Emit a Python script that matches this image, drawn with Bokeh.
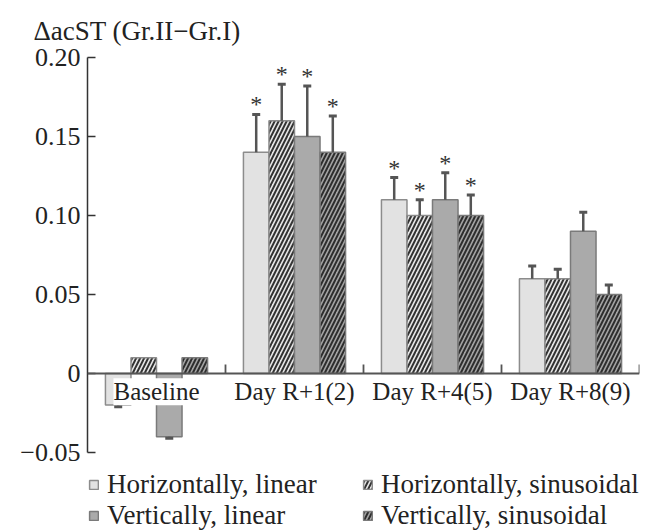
import math
from bokeh.plotting import figure
from bokeh.models import (FactorRange, FixedTicker, ColumnDataSource, Legend,
                          LegendItem, Span)
from bokeh.transform import dodge
from bokeh.core.properties import value
from bokeh.embed import file_html
from bokeh.resources import INLINE

NaN = float("nan")

groups = ["Baseline", "Day R+1(2)", "Day R+4(5)", "Day R+8(9)"]
series = ["Horizontally, linear", "Horizontally, sinusoidal",
          "Vertically, linear", "Vertically, sinusoidal"]

h_lin = [-0.02, 0.14, 0.11, 0.06]
h_sin = [0.01, 0.16, 0.10, 0.06]
v_lin = [-0.04, 0.15, 0.11, 0.09]
v_sin = [0.01, 0.14, 0.10, 0.05]

h_lin_err = [0.001, 0.024, 0.014, 0.008]
h_sin_err = [NaN, 0.023, 0.010, 0.006]
v_lin_err = [0.001, 0.032, 0.017, 0.012]
v_sin_err = [NaN, 0.023, 0.013, 0.006]

h_lin_sig = ["", "*", "*", ""]
h_sin_sig = ["", "*", "*", ""]
v_lin_sig = ["", "*", "*", ""]
v_sin_sig = ["", "*", "*", ""]

y_ticks = [-0.05, 0, 0.05, 0.10, 0.15, 0.20]
y_tick_labels = ["\u22120.05", "0", "0.05", "0.10", "0.15", "0.20"]
y_title = "\u0394acST (Gr.II\u2212Gr.I)"
y_axis_bounds = (-0.05, 0.20)
# extra room below the axis holds the legend inside the plot frame
y_view = (-0.10, 0.20)

FONT = "Liberation Serif"

p = figure(width=652, height=531, x_range=FactorRange(*groups, range_padding=0),
           y_range=y_view, output_backend="svg", toolbar_location=None,
           x_axis_location=None, min_border_left=87, min_border_right=13,
           min_border_top=57, min_border_bottom=0)
p.outline_line_color = None
p.grid.visible = False
p.background_fill_color = "white"
p.border_fill_color = "white"

p.title.text = y_title
p.title.align = "left"
p.title.offset = -54
p.title.standoff = 24
p.title.text_font = FONT
p.title.text_font_size = "27px"
p.title.text_font_style = "normal"
p.title.text_color = "#222222"

yax = p.yaxis[0]
yax.bounds = y_axis_bounds
yax.ticker = FixedTicker(ticks=y_ticks, minor_ticks=[])
yax.major_label_overrides = dict(zip(y_ticks, y_tick_labels))
yax.major_tick_in = 8
yax.major_tick_out = 0
yax.minor_tick_line_color = None
yax.axis_line_color = "#333333"
yax.axis_line_width = 1.5
yax.major_tick_line_color = "#333333"
yax.major_tick_line_width = 1.5
yax.major_label_text_font = FONT
yax.major_label_text_font_size = "26px"
yax.major_label_text_color = "#222222"
yax.major_label_standoff = 7

styles = [
    dict(fill_color="#e2e2e2", line_color="#8c8c8c"),
    dict(fill_color="#e8e8e8", line_color="#8c8c8c", hatch_pattern="/",
         hatch_color="#333333", hatch_scale=8, hatch_weight=2),
    dict(fill_color="#aaaaaa", line_color="#7a7a7a"),
    dict(fill_color="#a4a4a4", line_color="#7a7a7a", hatch_pattern="/",
         hatch_color="#2e2e2e", hatch_scale=8, hatch_weight=2),
]
offsets = [-0.2775, -0.0925, 0.0925, 0.2775]
bar_w = 0.185
vals = [h_lin, h_sin, v_lin, v_sin]
errs = [h_lin_err, h_sin_err, v_lin_err, v_sin_err]
sigs = [h_lin_sig, h_sin_sig, v_lin_sig, v_sin_sig]

renderers = []
for name, v, e, s, off, st in zip(series, vals, errs, sigs, offsets, styles):
    end = [vi + (ei if vi >= 0 else -ei) for vi, ei in zip(v, e)]
    src = ColumnDataSource(dict(group=groups, val=v, end=end, sig=s))
    xd = dodge("group", off, range=p.x_range)
    r = p.vbar(x=xd, top="val", bottom=0, width=bar_w, source=src,
               line_width=1.5, **st)
    renderers.append((name, r))
    p.segment(x0=xd, y0="val", x1=xd, y1="end", source=src,
              line_color="#555555", line_width=2.5)
    p.scatter(x=xd, y="end", source=src, marker="dash", size=8,
              line_color="#555555", line_width=3)
    p.text(x=xd, y="end", text="sig", source=src, text_font=value(FONT),
           text_font_size="24px", text_align="center",
           text_baseline="alphabetic", text_color="#333333", y_offset=-10)

p.add_layout(Span(location=0, dimension="width", line_color="#555555",
                  line_width=1.8))

gsrc = ColumnDataSource(dict(group=groups))
gx = dodge("group", 0.5, range=p.x_range)
p.segment(x0=gx, y0=0, x1=gx, y1=0.0057, source=gsrc,
          line_color="#555555", line_width=1.8)
p.text(x="group", y=-0.0115, text="group", source=gsrc, text_font=value(FONT),
       text_font_size="25px", text_align="center", text_baseline="middle",
       text_color="#222222", background_fill_color="white")

for pair, lx in (((0, 2), 1), ((1, 3), 275)):
    leg = Legend(items=[LegendItem(label=renderers[i][0],
                                   renderers=[renderers[i][1]]) for i in pair],
                 location=(lx, 0), orientation="vertical",
                 label_text_font=FONT, label_text_font_size="27px",
                 label_text_color="#222222", glyph_width=11, glyph_height=11,
                 label_standoff=8, spacing=0, padding=0,
                 margin=0, border_line_color=None, background_fill_alpha=0)
    p.add_layout(leg, "center")

open("out.html", "w").write(file_html(p, INLINE))
